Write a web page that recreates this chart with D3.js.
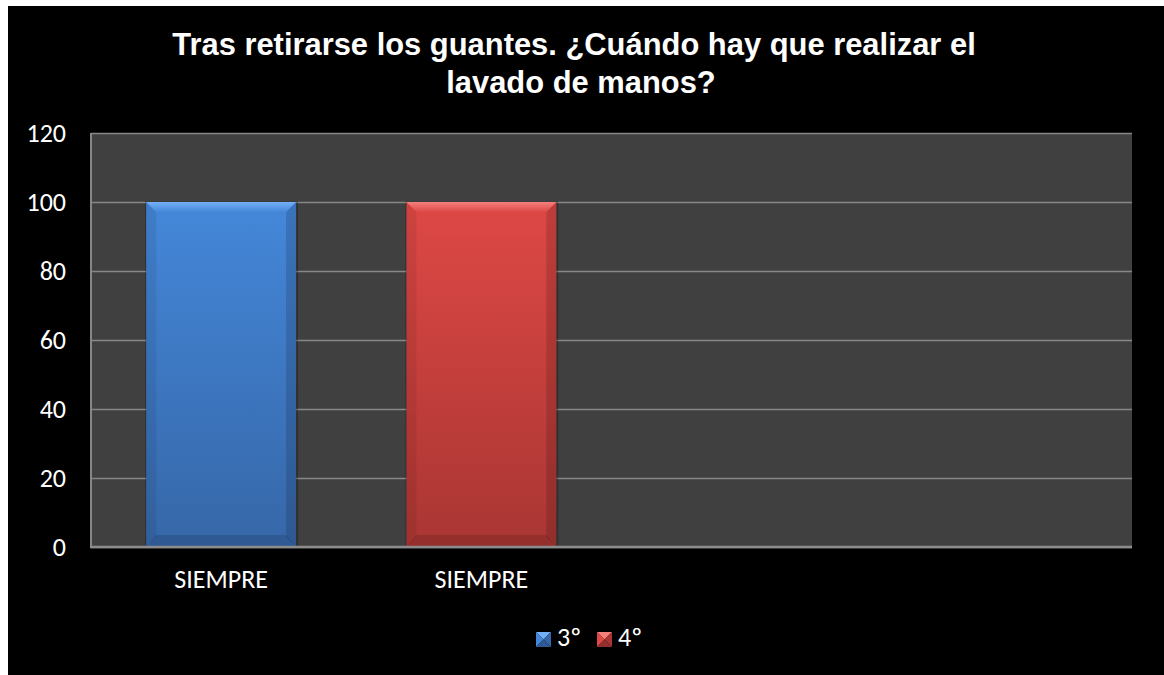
<!DOCTYPE html>
<html>
<head>
<meta charset="utf-8">
<script src="https://cdn.jsdelivr.net/npm/d3@7"></script>
<style>
body { margin: 0; background: #fff; }
</style>
</head>
<body>
<div id="chart-area"></div>
<script>
// chart data
var titleLines = ["Tras retirarse los guantes. ¿Cuándo hay que realizar el", "lavado de manos?"];
var categories = ["SIEMPRE", "SIEMPRE", "", ""];
var seriesNames = ["3º", "4º"];
var values3 = [100, null, null, null];
var values4 = [null, 100, null, null];
var yTicks = [0, 20, 40, 60, 80, 100, 120];

var series = [
    {name: seriesNames[0], values: values3, top: "#4487d9", bottom: "#3667a8", light: "#74b0f6"},
    {name: seriesNames[1], values: values4, top: "#de4845", bottom: "#a93633", light: "#f4807c"}
];

var width = 1164, height = 675;
var plot = {left: 91, top: 133, right: 1132, bottom: 547};
var labelFont = "Carlito, Lato, sans-serif";

var svg = d3.select("#chart-area").append("svg")
    .attr("width", width)
    .attr("height", height);

// black chart background (white strip left/top like the original)
svg.append("rect")
    .attr("x", 8).attr("y", 6)
    .attr("width", width - 8).attr("height", height - 6)
    .attr("fill", "#000");

// title
svg.append("g").selectAll("text")
    .data(titleLines)
    .enter().append("text")
    .attr("x", function (d, i) { return i == 0 ? 574 : 581; })
    .attr("y", function (d, i) { return 55 + i * 38; })
    .attr("text-anchor", "middle")
    .attr("fill", "#fff")
    .style("font-family", "'Liberation Sans', Arial, sans-serif")
    .style("font-weight", "bold")
    .style("font-size", "30.9px")
    .text(function (d) { return d; });

var x = d3.scaleBand()
    .domain(d3.range(categories.length))
    .range([plot.left, plot.right])
    .paddingInner(0.424)
    .paddingOuter(0.212);

var y = d3.scaleLinear()
    .domain([0, 120])
    .range([plot.bottom, plot.top]);

// plot area
svg.append("rect")
    .attr("x", plot.left).attr("y", plot.top)
    .attr("width", plot.right - plot.left).attr("height", plot.bottom - plot.top)
    .attr("fill", "#404040");

// gridlines
var grid = svg.append("g")
    .attr("transform", "translate(" + plot.left + ",0)")
    .call(d3.axisLeft(y).tickValues(yTicks).tickSize(-(plot.right - plot.left)).tickFormat(""));
grid.select(".domain").remove();
grid.selectAll("line").attr("stroke", "#878787").attr("stroke-width", 1.5);

// gradients
var defs = svg.append("defs");
series.forEach(function (s, i) {
    var g1 = defs.append("linearGradient").attr("id", "main" + i)
        .attr("x1", 0).attr("y1", 0).attr("x2", 0).attr("y2", 1);
    g1.append("stop").attr("offset", "0%").attr("stop-color", s.top);
    g1.append("stop").attr("offset", "100%").attr("stop-color", s.bottom);

    var g2 = defs.append("linearGradient").attr("id", "bev" + i)
        .attr("x1", 0).attr("y1", 0).attr("x2", 0).attr("y2", 1);
    g2.append("stop").attr("offset", "0%").attr("stop-color", s.light);
    g2.append("stop").attr("offset", "100%").attr("stop-color", s.top);
});

// bars with a bevel look
var bev = 10;
series.forEach(function (s, si) {
    var g = svg.append("g").attr("class", "series" + si);
    s.values.forEach(function (v, ci) {
        if (v == null) return;
        var x0 = x(ci), w = x.bandwidth(), y0 = y(v), h = y(0) - y(v);
        var x1 = x0 + w, y1 = y0 + h;

        g.append("rect")
            .attr("x", x0 - 1).attr("y", y0 - 1)
            .attr("width", w + 3).attr("height", h + 1)
            .attr("fill", "#000").attr("opacity", 0.25);

        g.append("rect")
            .attr("x", x0).attr("y", y0)
            .attr("width", w).attr("height", h)
            .attr("fill", "url(#main" + si + ")");

        // left edge
        g.append("polygon")
            .attr("points", [[x0, y0], [x0 + bev, y0 + bev], [x0 + bev, y1 - bev], [x0, y1]].join(" "))
            .attr("fill", "#000").attr("opacity", 0.07);
        // right edge
        g.append("polygon")
            .attr("points", [[x1, y0], [x1 - bev, y0 + bev], [x1 - bev, y1 - bev], [x1, y1]].join(" "))
            .attr("fill", "#000").attr("opacity", 0.14);
        // bottom edge
        g.append("polygon")
            .attr("points", [[x0, y1], [x0 + bev, y1 - bev - 2], [x1 - bev, y1 - bev - 2], [x1, y1]].join(" "))
            .attr("fill", "#000").attr("opacity", 0.13);
        // top edge
        g.append("polygon")
            .attr("points", [[x0, y0], [x1, y0], [x1 - bev, y0 + bev], [x0 + bev, y0 + bev]].join(" "))
            .attr("fill", "url(#bev" + si + ")");
    });
});

// axis lines
svg.append("line")
    .attr("x1", plot.left).attr("x2", plot.left)
    .attr("y1", plot.top).attr("y2", plot.bottom)
    .attr("stroke", "#878787").attr("stroke-width", 2);
svg.append("line")
    .attr("x1", plot.left - 1).attr("x2", plot.right)
    .attr("y1", plot.bottom).attr("y2", plot.bottom)
    .attr("stroke", "#8c8c8c").attr("stroke-width", 2.5);

// y axis labels
var yAxis = svg.append("g")
    .attr("transform", "translate(" + plot.left + ",0)")
    .call(d3.axisLeft(y).tickValues(yTicks).tickSize(0).tickPadding(25));
yAxis.select(".domain").remove();
yAxis.selectAll("text")
    .attr("fill", "#fff")
    .style("font-family", labelFont)
    .style("font-size", "26px");

// x axis labels
var xAxis = svg.append("g")
    .attr("transform", "translate(0," + plot.bottom + ")")
    .call(d3.axisBottom(x).tickSize(0).tickPadding(23).tickFormat(function (i) { return categories[i]; }));
xAxis.select(".domain").remove();
xAxis.selectAll("text")
    .attr("fill", "#fff")
    .style("font-family", labelFont)
    .style("font-size", "26px");

// legend
var legend = svg.append("g").selectAll("g")
    .data(series)
    .enter().append("g")
    .attr("transform", function (d, i) { return "translate(" + (536 + i * 61) + ",632)"; });

var m = 15;
legend.each(function (d, i) {
    var g = d3.select(this);
    var c = m / 2;
    g.append("polygon").attr("points", [[0, 0], [m, 0], [c, c]].join(" ")).attr("fill", d.light);
    g.append("polygon").attr("points", [[0, 0], [c, c], [0, m]].join(" ")).attr("fill", d.top);
    g.append("polygon").attr("points", [[m, 0], [c, c], [m, m]].join(" ")).attr("fill", d.bottom);
    g.append("polygon").attr("points", [[0, m], [c, c], [m, m]].join(" ")).attr("fill", d3.color(d.bottom).darker(0.4));
    g.append("text")
        .attr("x", 21).attr("y", 14)
        .attr("fill", "#fff")
        .style("font-family", labelFont)
        .style("font-size", "26px")
        .text(d.name);
});
</script>
</body>
</html>
